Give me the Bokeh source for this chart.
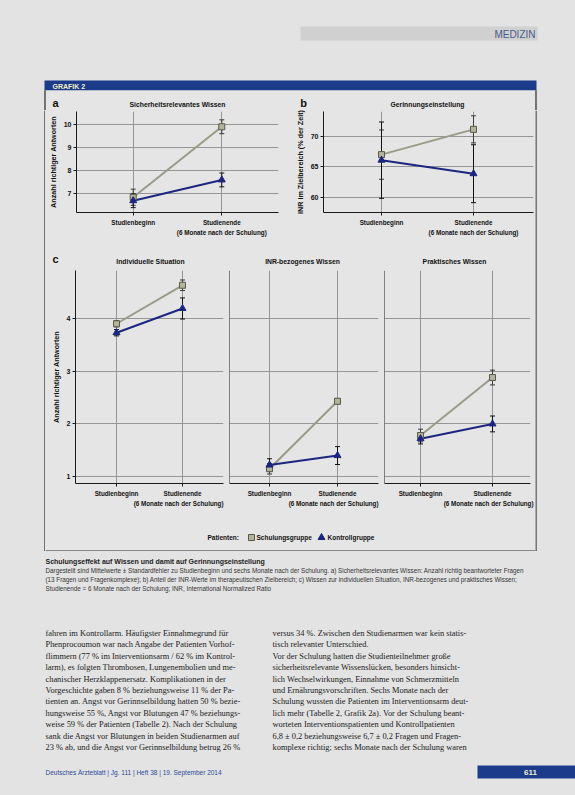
from bokeh.plotting import figure
from bokeh.layouts import column, row
from bokeh.models import (Range1d, FixedTicker, ColumnDataSource, Whisker, TeeHead, Span, LinearAxis)
from bokeh.core.properties import value
from bokeh.embed import file_html
from bokeh.resources import INLINE

# ---------------- data ----------------
zeitpunkte = ["Studienbeginn", "Studienende"]
zeitpunkt_zusatz = ["", "(6 Monate nach der Schulung)"]
legende_titel = "Patienten:"
legende = ["Schulungsgruppe", "Kontrollgruppe"]

a_titel = "Sicherheitsrelevantes Wissen"
a_ylabel = "Anzahl richtiger Antworten"
a_ticks = [7, 8, 9, 10]
a_schulung = [6.85, 9.9]
a_schulung_se = [0.35, 0.3]
a_kontroll = [6.7, 7.6]
a_kontroll_se = [0.3, 0.3]

b_titel = "Gerinnungseinstellung"
b_ylabel = "INR im Zielbereich (% der Zeit)"
b_ticks = [60, 65, 70]
b_schulung = [67.0, 71.1]
b_schulung_se = [4.0, 2.2]
b_kontroll = [66.1, 63.9]
b_kontroll_se = [6.2, 4.7]

c_titel = ["Individuelle Situation", "INR-bezogenes Wissen", "Praktisches Wissen"]
c_ylabel = "Anzahl richtiger Antworten"
c_ticks = [1, 2, 3, 4]
c1_schulung = [3.9, 4.63]
c1_schulung_se = [0.06, 0.1]
c1_kontroll = [3.73, 4.19]
c1_kontroll_se = [0.06, 0.2]
c2_schulung = [1.15, 2.43]
c2_schulung_se = [0.1, 0.05]
c2_kontroll = [1.22, 1.4]
c2_kontroll_se = [0.12, 0.17]
c3_schulung = [1.78, 2.88]
c3_schulung_se = [0.12, 0.14]
c3_kontroll = [1.72, 2.0]
c3_kontroll_se = [0.1, 0.15]

caption_title = "Schulungseffekt auf Wissen und damit auf Gerinnungseinstellung"
caption_lines = [
    "Dargestellt sind Mittelwerte \u00b1 Standardfehler zu Studienbeginn und sechs Monate nach der Schulung. a) Sicherheitsrelevantes Wissen: Anzahl richtig beantworteter Fragen",
    "(13 Fragen und Fragenkomplexe); b) Anteil der INR-Werte im therapeutischen Zielbereich; c) Wissen zur individuellen Situation, INR-bezogenes und praktisches Wissen;",
    "Studienende = 6 Monate nach der Schulung; INR, International Normalized Ratio",
]
body_left = [
    "fahren im Kontrollarm. H\u00e4ufigster Einnahmegrund f\u00fcr",
    "Phenprocoumon war nach Angabe der Patienten Vorhof-",
    "flimmern (77 % im Interventionsarm / 62 % im Kontrol-",
    "larm), es folgten Thrombosen, Lungenembolien und me-",
    "chanischer Herzklappenersatz. Komplikationen in der",
    "Vorgeschichte gaben 8 % beziehungsweise 11 % der Pa-",
    "tienten an. Angst vor Gerinnselbildung hatten 50 % bezie-",
    "hungsweise 55 %, Angst vor Blutungen 47 % beziehungs-",
    "weise 59 % der Patienten (Tabelle 2). Nach der Schulung",
    "sank die Angst vor Blutungen in beiden Studienarmen auf",
    "23 % ab, und die Angst vor Gerinnselbildung betrug 26 %",
]
body_right = [
    "versus 34 %. Zwischen den Studienarmen war kein statis-",
    "tisch relevanter Unterschied.",
    "   Vor der Schulung hatten die Studienteilnehmer gro\u00dfe",
    "sicherheitsrelevante Wissensl\u00fccken, besonders hinsicht-",
    "lich Wechselwirkungen, Einnahme von Schmerzmitteln",
    "und Ern\u00e4hrungsvorschriften. Sechs Monate nach der",
    "Schulung wussten die Patienten im Interventionsarm deut-",
    "lich mehr (Tabelle 2, Grafik 2a). Vor der Schulung beant-",
    "worteten Interventionspatienten und Kontrollpatienten",
    "6,8 \u00b1 0,2 beziehungsweise 6,7 \u00b1 0,2 Fragen und Fragen-",
    "komplexe richtig; sechs Monate nach der Schulung waren",
]
footer_text = "Deutsches \u00c4rzteblatt | Jg. 111 | Heft 38 | 19. September 2014"
seitenzahl = "611"
rubrik = "MEDIZIN"
grafik_nr = "GRAFIK 2"

# ---------------- style ----------------
PAGE = "#e3e3e3"
BOX = "#e5e5e5"
GRID = "#959595"
AX = "#1a1a1a"
BORDER = "#2b2b2b"
BLUE = "#1d3b8b"
COL_S = "#9a9a86"
COL_S_FILL = "#b4b49c"
COL_K = "#1c2680"
FONT = "Liberation Sans"
SERIF = "Liberation Serif"


def canvas(x0, x1, y0, y1, bg=PAGE):
    p = figure(width=x1 - x0, height=y1 - y0, x_range=Range1d(x0, x1), y_range=Range1d(y1, y0),
               title=None, toolbar_location=None, output_backend="svg", min_border=0,
               x_axis_location=None, y_axis_location=None,
               background_fill_color=bg, border_fill_color=bg, outline_line_color=None)
    p.grid.visible = False
    return p


def txt(p, xs, ys, texts, size, color="#111111", style="normal", font=FONT, align="left"):
    p.text(x=xs, y=ys, text=texts, text_font=value(font), text_font_size=value(size),
           text_font_style=style, text_color=color, text_align=align, text_baseline="middle")


def style_axis(ax, size="7px"):
    ax.axis_line_color = AX
    ax.axis_line_width = 1
    ax.major_tick_line_color = AX
    ax.major_tick_out = 3
    ax.major_tick_in = 0
    ax.minor_tick_line_color = None
    ax.major_label_text_font = FONT
    ax.major_label_text_font_size = size
    ax.major_label_text_font_style = "bold"
    ax.major_label_text_color = "#111111"


def panel(box, frame, cat_px, yrange, ticks, s, s_se, k, k_se, ylabel=None, yaxis=True):
    x0, x1, y0, y1 = box
    fx0, fx1, fy0, fy1 = frame
    c0, c1 = cat_px
    step = c1 - c0
    xr = Range1d(-(c0 - fx0) / step, 1 + (fx1 - c1) / step)
    yr = Range1d(*yrange)
    p = figure(width=x1 - x0, height=y1 - y0, x_range=xr, y_range=yr, title=None,
               toolbar_location=None, output_backend="svg",
               y_axis_location="left" if yaxis else None,
               min_border_left=fx0 - x0, min_border_right=x1 - fx1,
               min_border_top=fy0 - y0, min_border_bottom=y1 - fy1,
               background_fill_color=BOX, border_fill_color=BOX, outline_line_color=None)

    xt = list(range(len(zeitpunkte)))
    p.xaxis.ticker = FixedTicker(ticks=xt)
    p.xaxis.major_label_overrides = {i: t for i, t in zip(xt, zeitpunkte)}
    p.xgrid.ticker = FixedTicker(ticks=xt)
    p.ygrid.ticker = FixedTicker(ticks=ticks)
    p.grid.grid_line_color = GRID
    p.grid.grid_line_width = 1
    style_axis(p.xaxis[0], "6.3px")
    p.xaxis.major_label_standoff = 3

    # second line of the category labels
    zt = [i for i, t in zip(xt, zeitpunkt_zusatz) if t]
    ax2 = LinearAxis(ticker=FixedTicker(ticks=zt),
                     major_label_overrides={i: zeitpunkt_zusatz[i] for i in zt})
    style_axis(ax2, "6.3px")
    ax2.axis_line_color = None
    ax2.major_tick_line_color = None
    ax2.major_tick_out = 0
    ax2.major_label_standoff = 0
    p.add_layout(ax2, "below")

    if yaxis:
        p.yaxis.ticker = FixedTicker(ticks=ticks)
        style_axis(p.yaxis[0], "7px")
        p.yaxis.major_label_standoff = 2
        if ylabel:
            p.yaxis.axis_label = ylabel
            p.yaxis.axis_label_text_font = FONT
            p.yaxis.axis_label_text_font_size = "7.2px"
            p.yaxis.axis_label_text_font_style = "bold"
            p.yaxis.axis_label_text_color = "#111111"
            p.yaxis.axis_label_standoff = 3
    else:
        p.add_layout(Span(location=xr.start, dimension="height", line_color=AX, line_width=1))

    # error bars
    for m, se, col in ((s, s_se, "#3a3a3a"), (k, k_se, "#111111")):
        src = ColumnDataSource(dict(x=xt, lo=[a - b for a, b in zip(m, se)],
                                    hi=[a + b for a, b in zip(m, se)]))
        w = Whisker(source=src, base="x", lower="lo", upper="hi", line_color=col, line_width=1,
                    upper_head=TeeHead(size=5, line_color=col, line_width=1),
                    lower_head=TeeHead(size=5, line_color=col, line_width=1), level="underlay")
        p.add_layout(w)

    p.line(xt, s, line_color=COL_S, line_width=2)
    p.line(xt, k, line_color=COL_K, line_width=2)
    p.scatter(xt, s, marker="square", size=6, fill_color=COL_S_FILL, line_color="#5a5a4a")
    p.scatter(xt, k, marker="triangle", size=7, fill_color=COL_K, line_color=COL_K)
    return p


# ---------------- panels ----------------
pa = panel((45, 290, 110, 242), (75, 278, 111, 212), (132, 221), (6.19, 10.56), a_ticks,
           a_schulung, a_schulung_se, a_kontroll, a_kontroll_se, ylabel=a_ylabel)
pb = panel((290, 535, 110, 242), (323, 533, 111, 212), (381, 473), (57.6, 74.0), b_ticks,
           b_schulung, b_schulung_se, b_kontroll, b_kontroll_se, ylabel=b_ylabel)
pc1 = panel((45, 225, 268, 512), (75, 223, 270, 483), (116, 182), (0.87, 4.91), c_ticks,
            c1_schulung, c1_schulung_se, c1_kontroll, c1_kontroll_se, ylabel=c_ylabel)
pc2 = panel((225, 380, 268, 512), (229, 378, 270, 483), (269, 337), (0.87, 4.91), c_ticks,
            c2_schulung, c2_schulung_se, c2_kontroll, c2_kontroll_se, yaxis=False)
pc3 = panel((380, 535, 268, 512), (384, 530, 270, 483), (420, 492), (0.87, 4.91), c_ticks,
            c3_schulung, c3_schulung_se, c3_kontroll, c3_kontroll_se, yaxis=False)

# ---------------- decorations ----------------
W, H = 575, 795
top = canvas(0, W, 0, 110)
top.quad(left=[300], right=[537], top=[26], bottom=[40], fill_color="#d0d0d0", line_color=None)
txt(top, [535], [33.5], [rubrik], "10px", color="#4a5a8e", align="right")
top.quad(left=[44], right=[536], top=[80], bottom=[90], fill_color=BLUE, line_color=None)
top.quad(left=[45], right=[535], top=[90], bottom=[110], fill_color=BOX, line_color=None)
txt(top, [52], [85.5], [grafik_nr], "7px", color="#f4f0c8", style="bold")
top.segment(x0=[44.5, 535.5], y0=[90, 90], x1=[44.5, 535.5], y1=[110, 110], line_color=BORDER, line_width=1.2)
txt(top, [55], [102.5], ["a"], "11px", style="bold", align="center")
txt(top, [303], [102], ["b"], "11px", style="bold", align="center")
txt(top, [177, 427], [103.5, 103.5], [a_titel, b_titel], "6.8px", style="bold", align="center")

strip = canvas(45, 535, 242, 268, bg=BOX)
txt(strip, [55], [258], ["c"], "11px", style="bold", align="center")
txt(strip, [150, 302, 454], [260.5] * 3, c_titel, "6.8px", style="bold", align="center")

left = canvas(0, 45, 110, 551)
left.segment(x0=[44.5, 44], y0=[110, 550.5], x1=[44.5, 45], y1=[551, 550.5], line_color=BORDER, line_width=1.2)
right = canvas(535, W, 110, 551)
right.segment(x0=[535.5, 535], y0=[110, 550.5], x1=[535.5, 536], y1=[551, 550.5], line_color=BORDER, line_width=1.2)

leg = canvas(45, 535, 512, 551, bg=BOX)
txt(leg, [207], [537], [legende_titel], "6.5px", style="bold")
leg.scatter([251], [537], marker="square", size=6, fill_color=COL_S_FILL, line_color="#5a5a4a")
leg.scatter([321], [537], marker="triangle", size=7, fill_color=COL_K, line_color=COL_K)
txt(leg, [256, 327], [537, 537], legende, "6.5px", style="bold")
leg.segment(x0=[45], y0=[550.5], x1=[535], y1=[550.5], line_color=BORDER, line_width=1.2)

bottom = canvas(0, W, 551, H)
txt(bottom, [45], [561], [caption_title], "7px", style="bold", color="#222222")
txt(bottom, [45] * len(caption_lines), [570 + 9 * i for i in range(len(caption_lines))],
    caption_lines, "6.3px", color="#333333")
txt(bottom, [45] * len(body_left), [633 + 11.4 * i for i in range(len(body_left))],
    body_left, "8.4px", color="#1a1a1a", font=SERIF)
txt(bottom, [272] * len(body_right), [633 + 11.4 * i for i in range(len(body_right))],
    body_right, "8.4px", color="#1a1a1a", font=SERIF)
txt(bottom, [45], [772], [footer_text], "6.5px", color="#2c4a9a")
bottom.quad(left=[477], right=[W], top=[765], bottom=[778], fill_color=BLUE, line_color=None)
txt(bottom, [530], [771.5], [seitenzahl], "8px", color="#f0f0d0", style="bold", align="center")

bg = {"background-color": PAGE}
layout = column(
    top,
    row(left,
        column(row(pa, pb, spacing=0, styles=bg), strip, row(pc1, pc2, pc3, spacing=0, styles=bg), leg,
               spacing=0, styles=bg),
        right, spacing=0, styles=bg),
    bottom,
    spacing=0, styles=bg,
)

open("out.html", "w").write(file_html(layout, INLINE))
